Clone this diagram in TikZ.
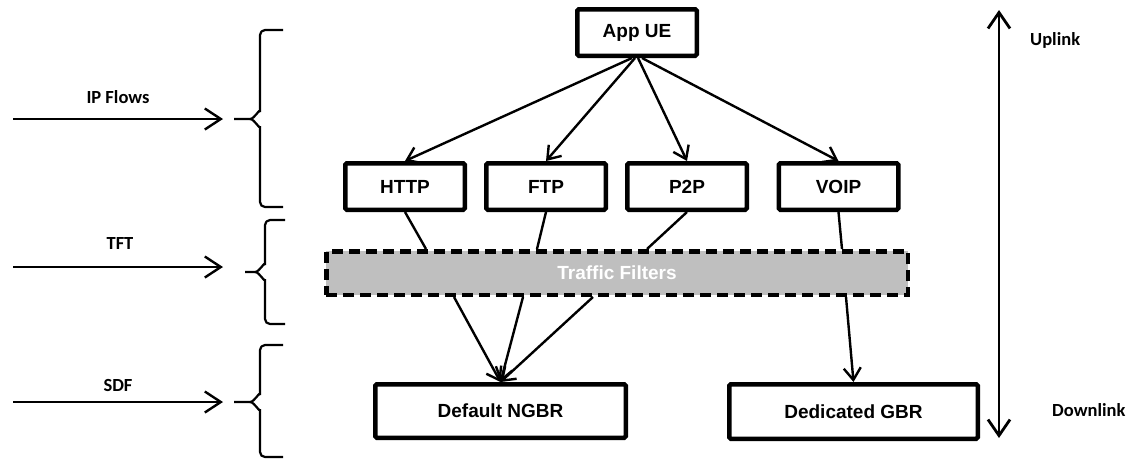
\documentclass[tikz,border=0pt]{standalone}
\usepackage{fontspec}
\setmainfont{Liberation Sans}
\newfontfamily\labelfont{Carlito}
\usetikzlibrary{arrows.meta}

\tikzset{
  box/.style={draw, line width=4.5pt, rounded corners=1.5pt, inner sep=0pt,
    minimum width=119.5pt, minimum height=46.5pt,
    font=\fontsize{19}{21}\selectfont\bfseries},
  bearer/.style={box, minimum width=250.5pt, minimum height=53.5pt},
  filterbox/.style={draw, line width=4.5pt, dash pattern=on 11pt off 6pt,
    fill=filtergray, text=white, inner sep=0pt,
    minimum width=581.5pt, minimum height=43.5pt,
    font=\fontsize{19}{21}\selectfont\bfseries},
  link/.style={line width=2.4pt},
  flow/.style={line width=2.4pt, -{Straight Barb[length=12pt,width=17pt]}},
  side/.style={line width=2.4pt, -{Straight Barb[length=16pt,width=21pt]}},
  updown/.style={line width=2.8pt,
    {Straight Barb[length=16pt,width=22pt]}-{Straight Barb[length=16pt,width=22pt]}},
  brace/.style={line width=2.2pt, line join=round},
  lbl/.style={font=\labelfont\fontsize{18.5}{20}\selectfont\bfseries,
    inner sep=0pt}
}
\definecolor{filtergray}{HTML}{BFBFBF}

\begin{document}
\begin{tikzpicture}[x=1pt, y=-1pt]
\useasboundingbox (0,0) rectangle (1126,459);

% application and its flows
\node[box] (app)  at (637,32.5)  {App UE};
\node[box] (http) at (405,186.5) {HTTP};
\node[box] (ftp)  at (546,186.5) {FTP};
\node[box] (p2p)  at (687,186.5) {P2P};
\node[box] (voip) at (838.5,186.5) {VOIP};

% packet filters
\node[filterbox] (tf) at (617,273) {Traffic Filters};

% bearers
\node[bearer] (ngbr) at (500.5,411) {Default NGBR};
\node[bearer, minimum width=248.5pt, minimum height=54.5pt] (gbr) at (853.5,411.5) {Dedicated GBR};

% application to flows
\draw[flow] ([xshift=-5pt]app.south) -- (http.north);
\draw[flow] ([xshift=-2pt]app.south) -- (ftp.north);
\draw[flow] ([xshift=1pt]app.south) -- (p2p.north);
\draw[flow] ([xshift=5pt]app.south) -- (voip.north);

% flows into the filters
\draw[link] (http.south) -- (426,0 |- tf.north);
\draw[link] (ftp.south)  -- (537,0 |- tf.north);
\draw[link] (p2p.south)  -- (647,0 |- tf.north);
\draw[link] (voip.south) -- (842,0 |- tf.north);

% filters onto bearers
\draw[flow] (454,0 |- tf.south) -- (ngbr.north);
\draw[flow] (523,0 |- tf.south) -- (ngbr.north);
\draw[flow] (593,0 |- tf.south) -- (ngbr.north);
\draw[flow] (846,0 |- tf.south) -- (gbr.north);

% layer labels with arrows
\node[lbl, anchor=base] (lip)  at (118,103) {IP Flows};
\node[lbl, anchor=base] (ltft) at (120,249) {TFT};
\node[lbl, anchor=base] (lsdf) at (118,391) {SDF};
\coordinate (ipA) at (13,119);  \coordinate (ipB) at (223,119);
\coordinate (tfA) at (13,267);  \coordinate (tfB) at (223,267);
\coordinate (sdA) at (13,402);  \coordinate (sdB) at (223,402);
\draw[side] (ipA) -- (ipB);
\draw[side] (tfA) -- (tfB);
\draw[side] (sdA) -- (sdB);

% braces
\draw[brace, rounded corners=5pt] (283,30) -- (260,30) -- (260,112);
\draw[brace] (260,112) to[out=90,in=0] (250,119) -- (234,119);
\draw[brace] (250,119) to[out=0,in=-90] (260,126);
\draw[brace, rounded corners=5pt] (260,126) -- (260,207) -- (283,207);

\draw[brace, rounded corners=5pt] (285,220) -- (265,220) -- (265,265);
\draw[brace] (265,265) to[out=90,in=0] (255,272) -- (245,272);
\draw[brace] (255,272) to[out=0,in=-90] (265,279);
\draw[brace, rounded corners=5pt] (265,279) -- (265,324) -- (285,324);

\draw[brace, rounded corners=5pt] (283,345) -- (260,345) -- (260,395);
\draw[brace] (260,395) to[out=90,in=0] (250,402) -- (234,402);
\draw[brace] (250,402) to[out=0,in=-90] (260,409);
\draw[brace, rounded corners=5pt] (260,409) -- (260,457) -- (283,457);

% direction
\coordinate (top) at (999,10);
\coordinate (bot) at (999,438);
\draw[updown] (top) -- (bot);
\node[lbl, anchor=base west] (up)   at (1030,45)  {Uplink};
\node[lbl, anchor=base west] (down) at (1052,416) {Downlink};
\end{tikzpicture}
\end{document}
